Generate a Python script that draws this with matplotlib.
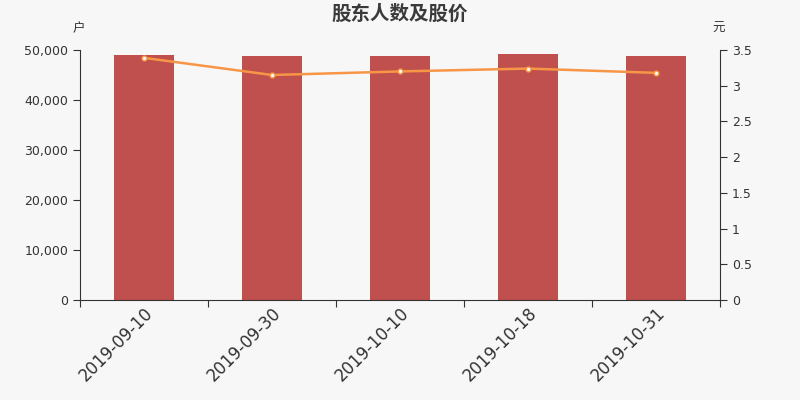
import matplotlib
matplotlib.use("Agg")
import matplotlib.pyplot as plt
import matplotlib.transforms as mtransforms
from matplotlib.ticker import FuncFormatter, FixedLocator

dates = ["2019-09-10", "2019-09-30", "2019-10-10", "2019-10-18", "2019-10-31"]
holders = [49000, 48800, 48800, 49200, 48900]
prices = [3.39, 3.15, 3.20, 3.24, 3.18]
left_ticks = [0, 10000, 20000, 30000, 40000, 50000]
right_ticks = [0, 0.5, 1, 1.5, 2, 2.5, 3, 3.5]
right_labels = ["0", "0.5", "1", "1.5", "2", "2.5", "3", "3.5"]

bg = "#f7f7f7"
bar_color = "#c0504d"
line_color = "#f79646"
axis_color = "#333333"
text_color = "#333333"

fig = plt.figure(figsize=(8, 4), dpi=100, facecolor=bg)
ax = fig.add_axes([0.1, 0.25, 0.8, 0.625])
ax.set_facecolor(bg)
x = list(range(len(dates)))
ax.bar(x, holders, width=0.47, color=bar_color, zorder=2)
ax.set_xlim(-0.5, len(dates) - 0.5)
ax.set_ylim(0, 50000)
ax.yaxis.set_major_locator(FixedLocator(left_ticks))
ax.yaxis.set_major_formatter(FuncFormatter(lambda v, p: f"{int(v):,}"))
ax.set_xticks([i - 0.5 for i in range(len(dates) + 1)])
ax.set_xticklabels([])
ax.set_xticks(x, minor=True)
labels = ax.set_xticklabels(dates, minor=True, rotation=45, ha="right",
                            rotation_mode="anchor", fontsize=12, color=text_color)
offset = mtransforms.ScaledTranslation(-5 / 100, 0, fig.dpi_scale_trans)
for lab in labels:
    lab.set_transform(lab.get_transform() + offset)
ax.tick_params(axis="x", which="minor", length=0, pad=3)
ax.tick_params(axis="x", which="major", length=5, color=axis_color)
ax.tick_params(axis="y", length=5, color=axis_color, labelsize=9, labelcolor=text_color)
for s in ["top", "right"]:
    ax.spines[s].set_visible(False)
for s in ["left", "bottom"]:
    ax.spines[s].set_color(axis_color)

ax2 = ax.twinx()
ax2.plot(x, prices, color=line_color, linewidth=1.8, zorder=3,
         marker="o", markersize=3.5, markerfacecolor="white",
         markeredgecolor=line_color, markeredgewidth=1)
ax2.set_ylim(0, 3.5)
ax2.set_yticks(right_ticks)
ax2.set_yticklabels(right_labels)
ax2.tick_params(axis="y", length=5, color=axis_color, labelsize=9, labelcolor=text_color)
for s in ["top", "left", "bottom"]:
    ax2.spines[s].set_visible(False)
ax2.spines["right"].set_color(axis_color)

cjk = ["Noto Sans CJK SC", "DejaVu Sans"]
fig.text(0.5, 0.965, "股东人数及股价", ha="center", va="center",
         fontsize=14, fontweight="bold", color="#3a3a3a", family=cjk)
fig.text(0.098, 0.928, "户", ha="center", va="center", fontsize=9,
         color=text_color, family=cjk)
fig.text(0.898, 0.928, "元", ha="center", va="center", fontsize=9,
         color=text_color, family=cjk)

fig.savefig("out.png", dpi=100, facecolor=bg)
